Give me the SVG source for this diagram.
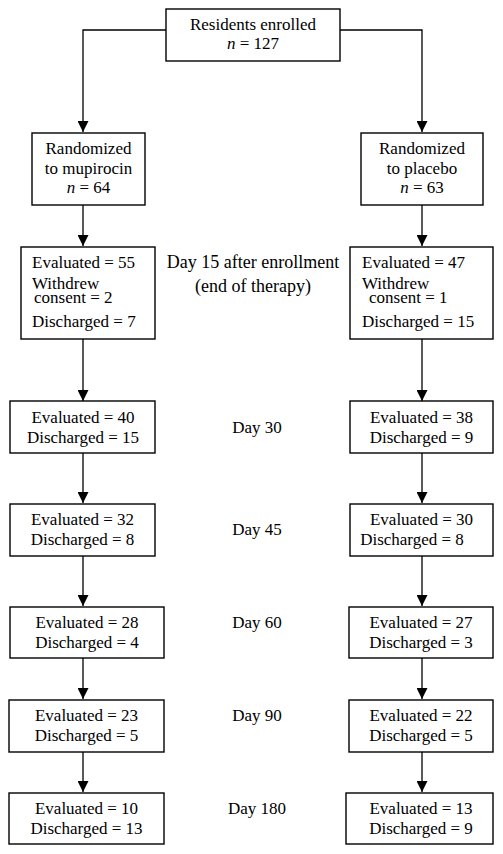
<svg xmlns="http://www.w3.org/2000/svg" width="503" height="854" viewBox="0 0 503 854">
<defs>
<marker id="arr" markerUnits="userSpaceOnUse" markerWidth="11" markerHeight="11" refX="10" refY="5" orient="auto" viewBox="0 0 10 10">
<path d="M0,0 L10,5 L0,10 z" fill="#000"/>
</marker>
<style>
.box{fill:#fff;stroke:#000;stroke-width:1.4}
.t{font-family:"Liberation Serif","Times New Roman",serif;font-size:17px;fill:#000}
.c{text-anchor:middle}
.ln{fill:none;stroke:#000;stroke-width:1.3;marker-end:url(#arr)}
</style>
</defs>
<rect width="503" height="854" fill="#fff"/>
<g id="connectors">
<polyline class="ln" points="166,30 83,30 83,132"/>
<polyline class="ln" points="340,30 422,30 422,132"/>
<line class="ln" x1="83" y1="205" x2="83" y2="246"/>
<line class="ln" x1="422" y1="205" x2="422" y2="246"/>
<line class="ln" x1="83" y1="339" x2="83" y2="401"/>
<line class="ln" x1="422" y1="339" x2="422" y2="401"/>
<line class="ln" x1="83" y1="453" x2="83" y2="503"/>
<line class="ln" x1="422" y1="453" x2="422" y2="503"/>
<line class="ln" x1="83" y1="556" x2="83" y2="606"/>
<line class="ln" x1="422" y1="556" x2="422" y2="606"/>
<line class="ln" x1="83" y1="658" x2="83" y2="699"/>
<line class="ln" x1="422" y1="658" x2="422" y2="699"/>
<line class="ln" x1="83" y1="752" x2="83" y2="792"/>
<line class="ln" x1="422" y1="752" x2="422" y2="792"/>
</g>
<g id="enrolled">
<rect class="box" x="166" y="9" width="174" height="52"/>
<text class="t c" x="253" y="30">Residents enrolled</text>
<text class="t c" x="253" y="49"><tspan font-style="italic">n</tspan> = 127</text>
</g>
<g id="rand-mupirocin">
<rect class="box" x="32" y="133" width="113" height="72"/>
<text class="t c" x="88.5" y="154">Randomized</text>
<text class="t c" x="88.5" y="174">to mupirocin</text>
<text class="t c" x="88.5" y="193"><tspan font-style="italic">n</tspan> = 64</text>
</g>
<g id="rand-placebo">
<rect class="box" x="361" y="133" width="122" height="72"/>
<text class="t c" x="422" y="154">Randomized</text>
<text class="t c" x="422" y="174">to placebo</text>
<text class="t c" x="422" y="193"><tspan font-style="italic">n</tspan> = 63</text>
</g>
<g id="m-day15">
<rect class="box" x="21" y="247" width="134" height="92"/>
<text class="t" x="32" y="268">Evaluated = 55</text>
<text class="t" x="32" y="289">Withdrew</text>
<text class="t" x="34" y="303">consent = 2</text>
<text class="t" x="32" y="327">Discharged = 7</text>
</g>
<g id="p-day15">
<rect class="box" x="350" y="247" width="143" height="92"/>
<text class="t" x="362" y="268">Evaluated = 47</text>
<text class="t" x="362" y="289">Withdrew</text>
<text class="t" x="369" y="303">consent = 1</text>
<text class="t" x="362" y="327">Discharged = 15</text>
</g>
<g id="label-day15">
<text class="t c" x="253" y="268" font-size="18px" style="font-size:18px">Day 15 after enrollment</text>
<text class="t c" x="253" y="292" style="font-size:18px">(end of therapy)</text>
</g>
<g id="m-day30">
<rect class="box" x="10" y="401" width="145" height="52"/>
<text class="t c" x="83" y="423">Evaluated = 40</text>
<text class="t c" x="83" y="443">Discharged = 15</text>
</g>
<g id="p-day30">
<rect class="box" x="350" y="401" width="143" height="52"/>
<text class="t c" x="421.5" y="423">Evaluated = 38</text>
<text class="t c" x="421.5" y="443">Discharged = 9</text>
</g>
<text class="t c" x="257" y="433">Day 30</text>
<g id="m-day45">
<rect class="box" x="10" y="504" width="145" height="52"/>
<text class="t c" x="82.5" y="525">Evaluated = 32</text>
<text class="t c" x="82.5" y="545">Discharged = 8</text>
</g>
<g id="p-day45">
<rect class="box" x="350" y="504" width="143" height="52"/>
<text class="t c" x="421.5" y="525">Evaluated = 30</text>
<text class="t c" x="412" y="545">Discharged = 8</text>
</g>
<text class="t c" x="257" y="535">Day 45</text>
<g id="m-day60">
<rect class="box" x="10" y="607" width="154" height="51"/>
<text class="t c" x="87" y="628">Evaluated = 28</text>
<text class="t c" x="87" y="648">Discharged = 4</text>
</g>
<g id="p-day60">
<rect class="box" x="349" y="607" width="144" height="51"/>
<text class="t c" x="421" y="628">Evaluated = 27</text>
<text class="t c" x="421" y="648">Discharged = 3</text>
</g>
<text class="t c" x="257" y="628">Day 60</text>
<g id="m-day90">
<rect class="box" x="9" y="700" width="155" height="52"/>
<text class="t c" x="86.5" y="721">Evaluated = 23</text>
<text class="t c" x="86.5" y="741">Discharged = 5</text>
</g>
<g id="p-day90">
<rect class="box" x="349" y="700" width="144" height="52"/>
<text class="t c" x="421" y="721">Evaluated = 22</text>
<text class="t c" x="421" y="741">Discharged = 5</text>
</g>
<text class="t c" x="257" y="721">Day 90</text>
<g id="m-day180">
<rect class="box" x="9" y="793" width="155" height="51"/>
<text class="t c" x="86.5" y="814">Evaluated = 10</text>
<text class="t c" x="86.5" y="834">Discharged = 13</text>
</g>
<g id="p-day180">
<rect class="box" x="346" y="793" width="147" height="51"/>
<text class="t c" x="421" y="814">Evaluated = 13</text>
<text class="t c" x="421" y="834">Discharged = 9</text>
</g>
<text class="t c" x="257" y="814">Day 180</text>
</svg>
